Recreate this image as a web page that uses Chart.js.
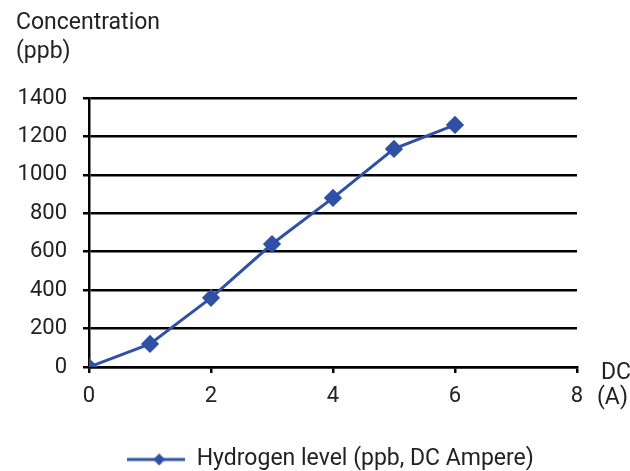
<!DOCTYPE html>
<html>
<head>
<meta charset="utf-8">
<script src="https://cdn.jsdelivr.net/npm/chart.js@4.4.0/dist/chart.umd.min.js"></script>
<style>
    html, body { margin: 0; padding: 0; background: #fff; }
    #wrap { width: 630px; height: 471px; }
</style>
</head>
<body>
<div id="wrap"><canvas id="chart"></canvas></div>
<script>
// 数据
const currentA = [0, 1, 2, 3, 4, 5, 6];
const hydrogenPpb = [0, 120, 360, 640, 880, 1135, 1260];
const xTicks = [0, 2, 4, 6, 8];
const yTicks = [0, 200, 400, 600, 800, 1000, 1200, 1400];
const seriesName = 'Hydrogen level (ppb, DC Ampere)';

const lineColor = '#2f50a5';
const textColor = '#222222';
const fontFamily = 'Roboto, "Noto Sans", sans-serif';

// 图例用的 线+菱形 图标
function legendIcon() {
    const c = document.createElement('canvas');
    c.width = 58;
    c.height = 18;
    const g = c.getContext('2d');
    g.strokeStyle = lineColor;
    g.lineWidth = 3;
    g.beginPath();
    g.moveTo(0, 9);
    g.lineTo(58, 9);
    g.stroke();
    g.fillStyle = lineColor;
    g.beginPath();
    g.moveTo(32, 3);
    g.lineTo(38, 9);
    g.lineTo(32, 15);
    g.lineTo(26, 9);
    g.closePath();
    g.fill();
    return c;
}

// 轴标题
const axisText = {
    id: 'axisText',
    afterLayout(chart) {
        // 图例位置微调
        chart.legend.left += 42;
        chart.legend.right += 42;
        chart.legend.top += 10;
        chart.legend.bottom += 10;
    },
    afterDraw(chart) {
        const ctx = chart.ctx;
        const xs = chart.scales.x;
        ctx.save();
        ctx.fillStyle = textColor;
        ctx.font = '23px ' + fontFamily;
        ctx.textAlign = 'left';
        ctx.textBaseline = 'middle';
        ctx.fillText('Concentration', 16, 23);
        ctx.fillText('(ppb)', 16, 52);
        ctx.fillText('DC', xs.right + 24, xs.top + 6);
        ctx.fillText('(A)', xs.right + 20, xs.top + 31);
        ctx.restore();
    }
};

new Chart(document.getElementById('chart'), {
    type: 'scatter',
    data: {
        datasets: [{
            label: seriesName,
            data: currentA.map((x, i) => ({ x: x, y: hydrogenPpb[i] })),
            showLine: true,
            borderColor: lineColor,
            backgroundColor: lineColor,
            borderWidth: 3,
            pointStyle: 'rectRot',
            pointRadius: 7,
            pointHoverRadius: 7,
            tension: 0
        }]
    },
    options: {
        responsive: true,
        maintainAspectRatio: false,
        animation: false,
        layout: {
            padding: { left: 0, right: 53, top: 98, bottom: 0 }
        },
        plugins: {
            legend: {
                display: true,
                position: 'bottom',
                labels: {
                    usePointStyle: true,
                    pointStyleWidth: 58,
                    color: textColor,
                    padding: 2,
                    font: { size: 23, family: fontFamily },
                    generateLabels: function(chart) {
                        return [{
                            text: seriesName,
                            pointStyle: legendIcon(),
                            fillStyle: lineColor,
                            strokeStyle: lineColor,
                            lineWidth: 0,
                            datasetIndex: 0,
                            fontColor: textColor
                        }];
                    }
                }
            },
            tooltip: { enabled: false }
        },
        scales: {
            x: {
                type: 'linear',
                min: 0,
                max: 8,
                afterBuildTicks: function(scale) {
                    scale.ticks = xTicks.map(v => ({ value: v }));
                },
                afterFit: function(scale) {
                    scale.height = 69;
                },
                border: { display: true, color: '#000', width: 2.5 },
                grid: {
                    drawOnChartArea: false,
                    drawTicks: true,
                    tickLength: 6,
                    color: '#000',
                    lineWidth: 2.5
                },
                ticks: {
                    color: textColor,
                    padding: 10,
                    font: { size: 22, family: fontFamily }
                }
            },
            y: {
                min: 0,
                max: 1400,
                afterBuildTicks: function(scale) {
                    scale.ticks = yTicks.map(v => ({ value: v }));
                },
                afterFit: function(scale) {
                    scale.width = 89;
                },
                border: { display: true, color: '#000', width: 2.5 },
                grid: {
                    drawTicks: true,
                    tickLength: 6,
                    color: '#000',
                    lineWidth: 2.5
                },
                ticks: {
                    color: textColor,
                    padding: 16,
                    font: { size: 22, family: fontFamily },
                    callback: function(value) {
                        return String(value);
                    }
                }
            }
        }
    },
    plugins: [axisText]
});
</script>
</body>
</html>
